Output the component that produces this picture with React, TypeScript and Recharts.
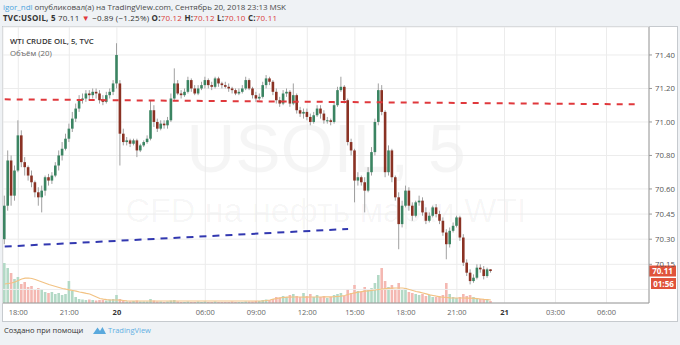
import React from 'react';
import { ComposedChart, Bar, Line, XAxis, YAxis, CartesianGrid, ReferenceLine } from 'recharts';

const opens = [
  70.30, 70.50, 70.77, 70.56, 70.71, 70.92, 70.76, 70.73, 70.68, 70.64,
  70.58, 70.55, 70.59, 70.67, 70.65, 70.68, 70.74, 70.80, 70.84, 70.90,
  70.96, 71.02, 71.08, 71.13, 71.14, 71.17, 71.16, 71.18, 71.17, 71.13,
  71.12, 71.16, 71.18, 71.23, 71.23, 70.93, 70.88, 70.89, 70.87, 70.89,
  70.83, 70.86, 70.88, 70.90, 71.07, 71.00, 70.96, 70.99, 70.98, 71.01,
  71.14, 71.23, 71.17, 71.16, 71.18, 71.25, 71.20, 71.17, 71.20, 71.22,
  71.25, 71.22, 71.21, 71.26, 71.23, 71.22, 71.21, 71.20, 71.19, 71.17,
  71.18, 71.20, 71.25, 71.20, 71.16, 71.14, 71.15, 71.22, 71.26, 71.24,
  71.18, 71.13, 71.11, 71.17, 71.18, 71.11, 71.16, 71.07, 71.05, 71.06,
  71.03, 71.00, 71.04, 71.08, 71.05, 71.01, 71.01, 71.00, 71.10, 71.19,
  71.21, 71.13, 70.88, 70.83, 70.65, 70.67, 70.64, 70.59, 70.70, 70.82,
  71.00, 71.19, 71.06, 70.70, 70.83, 70.67, 70.55, 70.39, 70.50, 70.59,
  70.50, 70.44, 70.52, 70.53, 70.46, 70.41, 70.44, 70.49, 70.45, 70.41,
  70.34, 70.27, 70.35, 70.38, 70.43, 70.31, 70.16, 70.10, 70.05, 70.07,
  70.13, 70.12, 70.08, 70.12,
];

const highs = [
  70.56, 70.83, 70.80, 70.74, 71.01, 70.95, 70.79, 70.74, 70.71, 70.65,
  70.61, 70.62, 70.68, 70.69, 70.70, 70.76, 70.83, 70.88, 70.93, 70.99,
  71.06, 71.11, 71.16, 71.17, 71.19, 71.19, 71.20, 71.20, 71.19, 71.16,
  71.18, 71.20, 71.25, 71.47, 71.25, 70.96, 70.91, 70.90, 70.90, 70.90,
  70.87, 70.89, 70.92, 71.13, 71.10, 71.02, 71.01, 71.01, 71.03, 71.17,
  71.32, 71.25, 71.19, 71.20, 71.27, 71.26, 71.22, 71.22, 71.24, 71.27,
  71.26, 71.24, 71.27, 71.27, 71.24, 71.24, 71.23, 71.21, 71.20, 71.20,
  71.22, 71.27, 71.26, 71.21, 71.18, 71.17, 71.24, 71.28, 71.27, 71.25,
  71.20, 71.15, 71.19, 71.20, 71.19, 71.23, 71.17, 71.09, 71.08, 71.08,
  71.05, 71.06, 71.10, 71.10, 71.07, 71.03, 71.02, 71.12, 71.21, 71.27,
  71.22, 71.14, 70.90, 70.84, 70.70, 70.68, 70.67, 70.73, 70.85, 71.02,
  71.23, 71.22, 71.07, 70.86, 70.84, 70.68, 70.58, 70.53, 70.62, 70.61,
  70.52, 70.53, 70.56, 70.55, 70.49, 70.46, 70.50, 70.51, 70.47, 70.43,
  70.36, 70.37, 70.40, 70.44, 70.44, 70.33, 70.18, 70.12, 70.09, 70.15,
  70.15, 70.14, 70.13, 70.12,
];

const lows = [
  70.27, 70.47, 70.50, 70.53, 70.70, 70.73, 70.68, 70.65, 70.61, 70.55,
  70.50, 70.46, 70.56, 70.62, 70.63, 70.67, 70.71, 70.77, 70.83, 70.88,
  70.94, 71.00, 71.06, 71.11, 71.12, 71.13, 71.14, 71.14, 71.11, 71.10,
  71.11, 71.14, 71.16, 71.20, 70.74, 70.86, 70.86, 70.85, 70.86, 70.79,
  70.82, 70.85, 70.87, 70.89, 70.97, 70.94, 70.95, 70.96, 70.96, 71.00,
  71.13, 71.16, 71.14, 71.15, 71.17, 71.18, 71.16, 71.16, 71.19, 71.20,
  71.20, 71.19, 71.20, 71.21, 71.20, 71.20, 71.18, 71.17, 71.16, 71.16,
  71.17, 71.19, 71.19, 71.14, 71.12, 71.13, 71.14, 71.20, 71.22, 71.16,
  71.11, 71.09, 71.10, 71.15, 71.09, 71.10, 71.05, 71.03, 71.02, 71.01,
  70.98, 70.99, 71.03, 71.02, 70.99, 70.99, 70.98, 70.99, 71.09, 71.18,
  71.11, 70.86, 70.80, 70.52, 70.62, 70.62, 70.46, 70.58, 70.68, 70.80,
  70.98, 71.04, 70.67, 70.68, 70.64, 70.53, 70.24, 70.37, 70.49, 70.47,
  70.41, 70.43, 70.50, 70.44, 70.39, 70.40, 70.43, 70.43, 70.39, 70.32,
  70.18, 70.25, 70.34, 70.37, 70.29, 70.14, 70.08, 70.03, 70.04, 70.06,
  70.10, 70.06, 70.07, 70.10,
];

const closes = [
  70.50, 70.77, 70.56, 70.71, 70.92, 70.76, 70.73, 70.68, 70.64, 70.58,
  70.55, 70.59, 70.67, 70.65, 70.68, 70.74, 70.80, 70.84, 70.90, 70.96,
  71.02, 71.08, 71.13, 71.14, 71.17, 71.16, 71.18, 71.17, 71.13, 71.12,
  71.16, 71.18, 71.23, 71.40, 70.93, 70.88, 70.89, 70.87, 70.89, 70.83,
  70.86, 70.88, 70.90, 71.07, 71.00, 70.96, 70.99, 70.98, 71.01, 71.14,
  71.23, 71.17, 71.16, 71.18, 71.25, 71.20, 71.17, 71.20, 71.22, 71.25,
  71.22, 71.21, 71.26, 71.23, 71.22, 71.21, 71.20, 71.19, 71.17, 71.18,
  71.20, 71.25, 71.20, 71.16, 71.14, 71.15, 71.22, 71.26, 71.24, 71.18,
  71.13, 71.11, 71.17, 71.18, 71.11, 71.16, 71.07, 71.05, 71.06, 71.03,
  71.00, 71.04, 71.08, 71.05, 71.01, 71.01, 71.00, 71.10, 71.19, 71.21,
  71.13, 70.88, 70.83, 70.65, 70.67, 70.64, 70.59, 70.70, 70.82, 71.00,
  71.19, 71.06, 70.70, 70.83, 70.67, 70.55, 70.39, 70.50, 70.59, 70.50,
  70.44, 70.52, 70.53, 70.46, 70.41, 70.44, 70.49, 70.45, 70.41, 70.34,
  70.27, 70.35, 70.38, 70.43, 70.31, 70.16, 70.10, 70.05, 70.07, 70.13,
  70.12, 70.08, 70.12, 70.11,
];

const volumes = [
  400, 350, 300, 240, 260, 190, 210, 160, 170, 130,
  150, 140, 110, 100, 110, 90, 100, 80, 90, 220,
  120, 60, 40, 35, 30, 35, 30, 25, 30, 30,
  25, 35, 40, 80, 40, 20, 15, 15, 20, 25,
  15, 15, 15, 40, 25, 15, 15, 10, 15, 25,
  30, 15, 10, 10, 15, 10, 10, 15, 10, 15,
  10, 10, 15, 10, 10, 10, 10, 15, 10, 10,
  10, 15, 15, 15, 20, 20, 30, 35, 30, 40,
  60, 55, 70, 60, 80, 90, 70, 60, 100, 70,
  90, 60, 80, 60, 70, 50, 60, 80, 90, 100,
  70, 140, 100, 180, 120, 110, 160, 130, 150, 200,
  280, 350, 220, 160, 180, 140, 200, 130, 150, 110,
  100, 90, 80, 90, 70, 80, 60, 60, 70, 80,
  200, 90, 60, 50, 60, 90, 70, 80, 60, 50,
  40, 40, 30, 20,
];

const volumeMA = [
  190, 195, 200, 210, 225, 240, 248, 250, 245, 235,
  222, 210, 198, 185, 175, 165, 155, 145, 138, 132,
  125, 118, 110, 103, 96, 90, 75, 60, 45, 38,
  33, 30, 30, 30, 28, 25, 22, 20, 20, 20,
  20, 20, 20, 20, 20, 20, 20, 20, 20, 20,
  20, 20, 20, 20, 20, 20, 20, 20, 20, 20,
  20, 20, 20, 20, 20, 20, 20, 20, 20, 20,
  20, 20, 20, 20, 20, 20, 22, 25, 30, 38,
  45, 52, 55, 58, 58, 60, 60, 60, 58, 58,
  60, 60, 60, 60, 62, 62, 62, 63, 65, 68,
  75, 85, 95, 102, 108, 113, 118, 122, 126, 130,
  135, 140, 143, 146, 148, 150, 150, 150, 145, 135,
  125, 115, 108, 100, 92, 82, 75, 68, 62, 58,
  55, 52, 50, 50, 50, 50, 48, 48, 46, 44,
  40, 36, 33, 30,
];

const SLOTS = 190;
const timeTickSlots = [4, 19, 33, 59, 74, 89, 103, 118, 133, 147, 162, 177];
const timeTickLabels = ['18:00', '21:00', '20', '06:00', '09:00', '12:00', '15:00', '18:00', '21:00', '21', '03:00', '06:00'];
const dayLabels = ['20', '21'];
const priceTicks = [71.4, 71.2, 71.0, 70.8, 70.6, 70.45, 70.3, 70.15];
const extraGridPrice = 70.0;
const priceDomain = [69.919, 71.567];
const volumeDomain = [0, 2760];
const redTrend = [{ slot: 0, price: 71.135 }, { slot: 187, price: 71.105 }];
const blueTrend = [{ slot: 0, price: 70.256 }, { slot: 101, price: 70.361 }];
const lastPrice = 70.11;
const countdown = '01:56';

const rows = Array.from({ length: SLOTS }, (_, s) => {
  if (s >= closes.length) return { slot: s };
  return {
    slot: s,
    open: opens[s],
    high: highs[s],
    low: lows[s],
    close: closes[s],
    range: [lows[s], highs[s]],
    vol: volumes[s],
    volMA: volumeMA[s],
  };
});

const UP = '#3b8462';
const DOWN = '#8a3224';
const WICK = '#a0a0a0';

const Candle = (props: any) => {
  const { x, y, width, height, payload } = props;
  if (!payload || payload.open == null) return <g />;
  const { open, close, high, low } = payload;
  const top = Math.min(y, y + height);
  const h = Math.abs(height);
  const ratio = h / (high - low);
  const yOf = (p: number) => top + (high - p) * ratio;
  const up = close >= open;
  const bTop = yOf(Math.max(open, close));
  const bBot = yOf(Math.min(open, close));
  const cx = x + width / 2;
  return (
    <g>
      <line x1={cx} x2={cx} y1={top} y2={top + h} stroke={WICK} strokeWidth={1} />
      <rect x={x} y={bTop} width={width} height={Math.max(1, bBot - bTop)} fill={up ? UP : DOWN} />
    </g>
  );
};

const VolBar = (props: any) => {
  const { x, y, width, height, payload } = props;
  if (!payload || payload.vol == null) return <g />;
  const up = payload.close >= payload.open;
  return <rect x={x} y={Math.min(y, y + height)} width={width} height={Math.abs(height)} fill={up ? '#b3d9c6' : '#f4b8b2'} />;
};

const TimeTick = (props: any) => {
  const { x, y, payload } = props;
  const idx = timeTickSlots.indexOf(payload.value);
  if (idx < 0) return <g />;
  const label = timeTickLabels[idx];
  const bold = dayLabels.includes(label);
  return (
    <text x={x} y={y + 12} textAnchor="middle" fontSize={7.5} fill={bold ? '#333' : '#666'} fontWeight={bold ? 700 : 400} fontFamily="'Open Sans', sans-serif">
      {label}
    </text>
  );
};

const PriceTick = (props: any) => {
  const { x, y, payload } = props;
  return (
    <text x={x} y={y + 3} textAnchor="start" fontSize={7.8} fill="#555" fontFamily="'Open Sans', sans-serif">
      {Number(payload.value).toFixed(2)}
    </text>
  );
};

const LastPriceLabel = (props: any) => {
  const vb = props.viewBox || {};
  const bx = (vb.x || 0) + (vb.width || 0);
  const by = vb.y || 0;
  return (
    <g fontFamily="'Open Sans', sans-serif" fontWeight={700} fontSize={8} fill="#fff">
      <rect x={bx} y={by - 5.5} width={27} height={11} fill="#e0533b" />
      <text x={bx + 13.5} y={by + 3} textAnchor="middle">{lastPrice.toFixed(2)}</text>
      <rect x={bx + 2} y={by + 7} width={25} height={11} fill="#e0533b" />
      <text x={bx + 14.5} y={by + 15.5} textAnchor="middle">{countdown}</text>
    </g>
  );
};

export default function App() {
  const font = "'Open Sans', 'Noto Sans', sans-serif";
  return (
    <div style={{ position: 'fixed', left: 0, top: 0, width: 680, height: 345, background: '#eff2f5', overflow: 'hidden' }}>
      <svg width={680} height={345} style={{ position: 'absolute', left: 0, top: 0 }}>
        <rect x={2.5} y={26.5} width={675} height={295} fill="#fff" stroke="#c6cace" />
        <g fontFamily="'Liberation Sans', Arial, sans-serif" fill="rgba(0,0,0,0.04)" textAnchor="middle">
          <text x={326} y={172} fontSize={68}>USOIL, 5</text>
          <text x={326} y={222} fontSize={34}>CFD на нефть марки WTI</text>
        </g>
      </svg>
      <div style={{ position: 'absolute', left: 0, top: 0 }}>
        <ComposedChart width={680} height={345} data={rows} margin={{ top: 27, right: 3, bottom: 24, left: 3 }}>
          <CartesianGrid xAxisId="main" yAxisId="price" stroke="#ececec" />
          <XAxis xAxisId="main" dataKey="slot" type="category" ticks={timeTickSlots} interval={0} tick={<TimeTick />} tickSize={0} tickMargin={0} height={18} axisLine={{ stroke: '#9a9a9a' }} tickLine={false} />
          <XAxis xAxisId="volx" dataKey="slot" type="category" hide />
          <YAxis yAxisId="price" orientation="right" type="number" domain={priceDomain} allowDataOverflow ticks={priceTicks} interval={0} width={28} tickSize={3} tickMargin={3} tick={<PriceTick />} axisLine={{ stroke: '#9a9a9a' }} tickLine={{ stroke: '#9a9a9a' }} />
          <YAxis yAxisId="vol" type="number" domain={volumeDomain} allowDataOverflow hide />
          <ReferenceLine xAxisId="main" yAxisId="price" y={extraGridPrice} stroke="#ececec" />
          <Bar xAxisId="volx" yAxisId="vol" dataKey="vol" barSize={2.6} shape={<VolBar />} isAnimationActive={false} />
          <Line xAxisId="volx" yAxisId="vol" dataKey="volMA" stroke="#f2c283" strokeWidth={1.2} dot={false} activeDot={false} isAnimationActive={false} />
          <Bar xAxisId="main" yAxisId="price" dataKey="range" barSize={2.6} shape={<Candle />} isAnimationActive={false} />
          <ReferenceLine xAxisId="main" yAxisId="price" segment={[{ x: redTrend[0].slot, y: redTrend[0].price }, { x: redTrend[1].slot, y: redTrend[1].price }]} stroke="#e0383c" strokeWidth={2} strokeDasharray="6 6" />
          <ReferenceLine xAxisId="main" yAxisId="price" segment={[{ x: blueTrend[0].slot, y: blueTrend[0].price }, { x: blueTrend[1].slot, y: blueTrend[1].price }]} stroke="#3238b0" strokeWidth={2} strokeDasharray="7 6" />
          <ReferenceLine xAxisId="main" yAxisId="price" y={lastPrice} stroke="none" label={<LastPriceLabel />} />
        </ComposedChart>
      </div>
      <svg width={680} height={345} style={{ position: 'absolute', left: 0, top: 0, pointerEvents: 'none' }}>
        <g fontFamily={font}>
          <text x={3} y={9.5} fontSize={8} fill="#4a4a4a" textLength={283}>
            <tspan fill="#4ea5de">igor_ndl</tspan> опубликовал(а) на TradingView.com, Сентябрь 20, 2018 23:13 MSK
          </text>
          <text x={3} y={20.5} fontSize={8} fill="#333" textLength={274}>
            <tspan fontWeight={700}>TVC:USOIL, 5</tspan> 70.11 <tspan fill="#e0383c">▼</tspan> −0.89 (−1.25%) <tspan fontWeight={700}>O:</tspan><tspan fill="#d9403a">70.12</tspan> <tspan fontWeight={700}>H:</tspan><tspan fill="#d9403a">70.12</tspan> <tspan fontWeight={700}>L:</tspan><tspan fill="#d9403a">70.10</tspan> <tspan fontWeight={700}>C:</tspan><tspan fill="#d9403a">70.11</tspan>
          </text>
          <text x={10} y={44} fontSize={7.8} fontWeight={600} fill="#333">WTI CRUDE OIL, 5, TVC</text>
          <text x={10} y={55.5} fontSize={7.8} fill="#666">Объём (20)</text>
          <text x={4} y={333} fontSize={7.5} fill="#333">Создано при помощи</text>
          <path d="M93 334 L97.5 327.5 L100 331 L102.5 327 L106 334 Z" fill="#5aa9dd" />
          <text x={108} y={333} fontSize={7.5} fill="#62b0e3">TradingView</text>
        </g>
      </svg>
    </div>
  );
}
